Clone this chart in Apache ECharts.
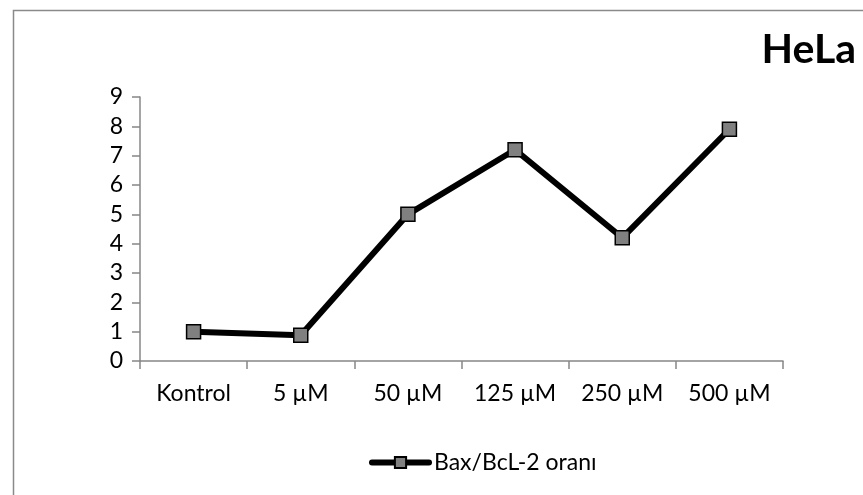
<!DOCTYPE html>
<html>
<head>
<meta charset="utf-8">
<script src="https://cdn.jsdelivr.net/npm/echarts@6/dist/echarts.min.js"></script>
<style>
  html, body { margin: 0; padding: 0; background: #fff; }
  #main { width: 863px; height: 495px; }
</style>
</head>
<body>
<div id="main"></div>
<script>
// data
var categories = ['Kontrol', '5 µM', '50 µM', '125 µM', '250 µM', '500 µM'];
var ratioValues = [1.0, 0.88, 5.0, 7.2, 4.2, 7.9];
var seriesName = 'Bax/BcL-2 oranı';
var chartTitle = 'HeLa';

var chartDom = document.getElementById('main');
var myChart = echarts.init(chartDom);
var axisGray = '#878787';
var font = 'Lato, "Open Sans", sans-serif';

var option = {
  backgroundColor: '#fff',
  animation: false,
  textStyle: { fontFamily: font },
  graphic: [
    {
      type: 'rect',
      left: 11,
      top: 8,
      shape: { width: 900, height: 600 },
      style: { fill: 'none', stroke: '#8a8a8a', lineWidth: 1.5 }
    }
  ],
  title: {
    text: chartTitle,
    right: 2,
    top: 24,
    textStyle: { fontFamily: font, fontSize: 41, fontWeight: 'bold', color: '#000' }
  },
  legend: {
    left: 364,
    top: 446,
    itemWidth: 57,
    itemHeight: 14,
    itemGap: 4,
    lineStyle: { width: 6, cap: 'round', color: '#000' },
    textStyle: { fontFamily: font, fontSize: 23, color: '#000' },
    data: [seriesName]
  },
  grid: {
    left: 140,
    right: 80,
    top: 97,
    bottom: 134,
    containLabel: false
  },
  xAxis: {
    type: 'category',
    data: categories,
    boundaryGap: true,
    axisLine: { lineStyle: { color: axisGray, width: 1.5 } },
    axisTick: { show: true, length: 8, alignWithLabel: false, lineStyle: { color: axisGray, width: 1.5 } },
    axisLabel: { color: '#000', fontSize: 23, margin: 21, fontFamily: font, interval: 0 }
  },
  yAxis: {
    type: 'value',
    min: 0,
    max: 9,
    interval: 1,
    splitLine: { show: false },
    axisLine: { show: true, lineStyle: { color: axisGray, width: 1.5 } },
    axisTick: { show: true, length: 8, lineStyle: { color: axisGray, width: 1.5 } },
    axisLabel: { color: '#000', fontSize: 23, margin: 17, fontFamily: font }
  },
  series: [
    {
      name: seriesName,
      type: 'line',
      data: ratioValues,
      symbol: 'rect',
      symbolSize: 14,
      lineStyle: { color: '#000', width: 6 },
      itemStyle: { color: '#808080', borderColor: '#000', borderWidth: 1.5 }
    }
  ]
};

option && myChart.setOption(option);
</script>
</body>
</html>
